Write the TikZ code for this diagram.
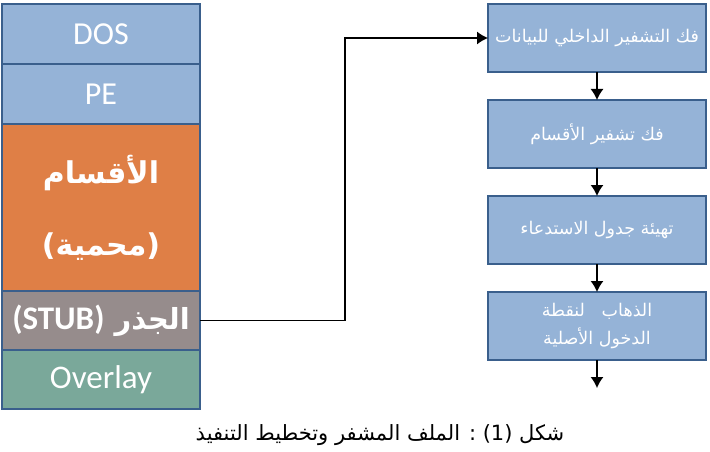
\documentclass[tikz,border=0pt]{standalone}
\usepackage{fontspec}
\setmainfont{Carlito}
\newfontfamily\arabicfont[Script=Arabic]{DejaVu Sans}
\TeXXeTstate=1
\usetikzlibrary{positioning, arrows.meta}

\definecolor{hdrblue}{HTML}{95B3D7}
\definecolor{secorange}{HTML}{DF7F46}
\definecolor{stubgray}{HTML}{968C8C}
\definecolor{ovlgreen}{HTML}{7AA89A}
\definecolor{edgeblue}{HTML}{3A5F8C}

\begin{document}
\begin{tikzpicture}[x=1pt, y=-1pt, node distance={28pt}, line width=1.3pt,
    flow/.style = {-{Latex[length=11pt, width=13pt]}},
    layer/.style = {draw=edgeblue, minimum width=198pt, outer sep=0pt, inner sep=0pt, text=white, align=center},
    stage/.style = {draw=edgeblue, fill=hdrblue, minimum width=218pt, minimum height=68pt, outer sep=0pt, text=white, align=center, font=\arabicfont\fontsize{17.5}{28}\selectfont}]
    \useasboundingbox (0,0) rectangle (710,452);
    % file layout
    \node[layer, fill=hdrblue, minimum height=60pt, anchor=north west, font=\fontsize{32}{34}\selectfont] (dos) at (2,4) {DOS};
    \node[layer, fill=hdrblue, minimum height=60pt, below=0pt of dos, font=\fontsize{32}{34}\selectfont] (pe) {PE};
    \node[layer, fill=secorange, minimum height=167pt, below=0pt of pe, font=\arabicfont\bfseries\fontsize{30}{32}\selectfont] (sections) {\beginR الأقسام\endR\\[40pt]\beginR(محمية)\endR};
    \node[layer, fill=stubgray, minimum height=59pt, below=0pt of sections, font=\arabicfont\bfseries\fontsize{29}{32}\selectfont] (stub) {\beginR الجذر \beginL{\rmfamily\bfseries\fontsize{33}{34}\selectfont(STUB)}\endL\endR};
    \node[layer, fill=ovlgreen, minimum height=59pt, below=0pt of stub, font=\fontsize{33}{34}\selectfont] (overlay) {Overlay};
    % execution steps
    \node[stage, anchor=north west] (decrypt) at (488,4) {\beginR فك التشفير الداخلي للبيانات\endR};
    \node[stage, below=of decrypt] (unpack) {\beginR فك تشفير الأقسام\endR};
    \node[stage, below=of unpack] (imports) {\beginR تهيئة جدول الاستدعاء\endR};
    \node[stage, below=of imports] (entry) {\beginR الذهاب\ \ \ لنقطة\endR\\\beginR الدخول الأصلية\endR};
    \coordinate[below=of entry] (exit);
    \draw[flow] (stub.east) -- ++(145,0) |- (decrypt.west);
    \draw[flow] (decrypt) -- (unpack);
    \draw[flow] (unpack) -- (imports);
    \draw[flow] (imports) -- (entry);
    \draw[flow] (entry) -- (exit);
    % caption
    \node[font=\arabicfont\fontsize{21}{22}\selectfont] (caption) at (380,435) {\beginR شكل \beginL(1)\endL{} : الملف المشفر وتخطيط التنفيذ\endR};
\end{tikzpicture}
\end{document}
